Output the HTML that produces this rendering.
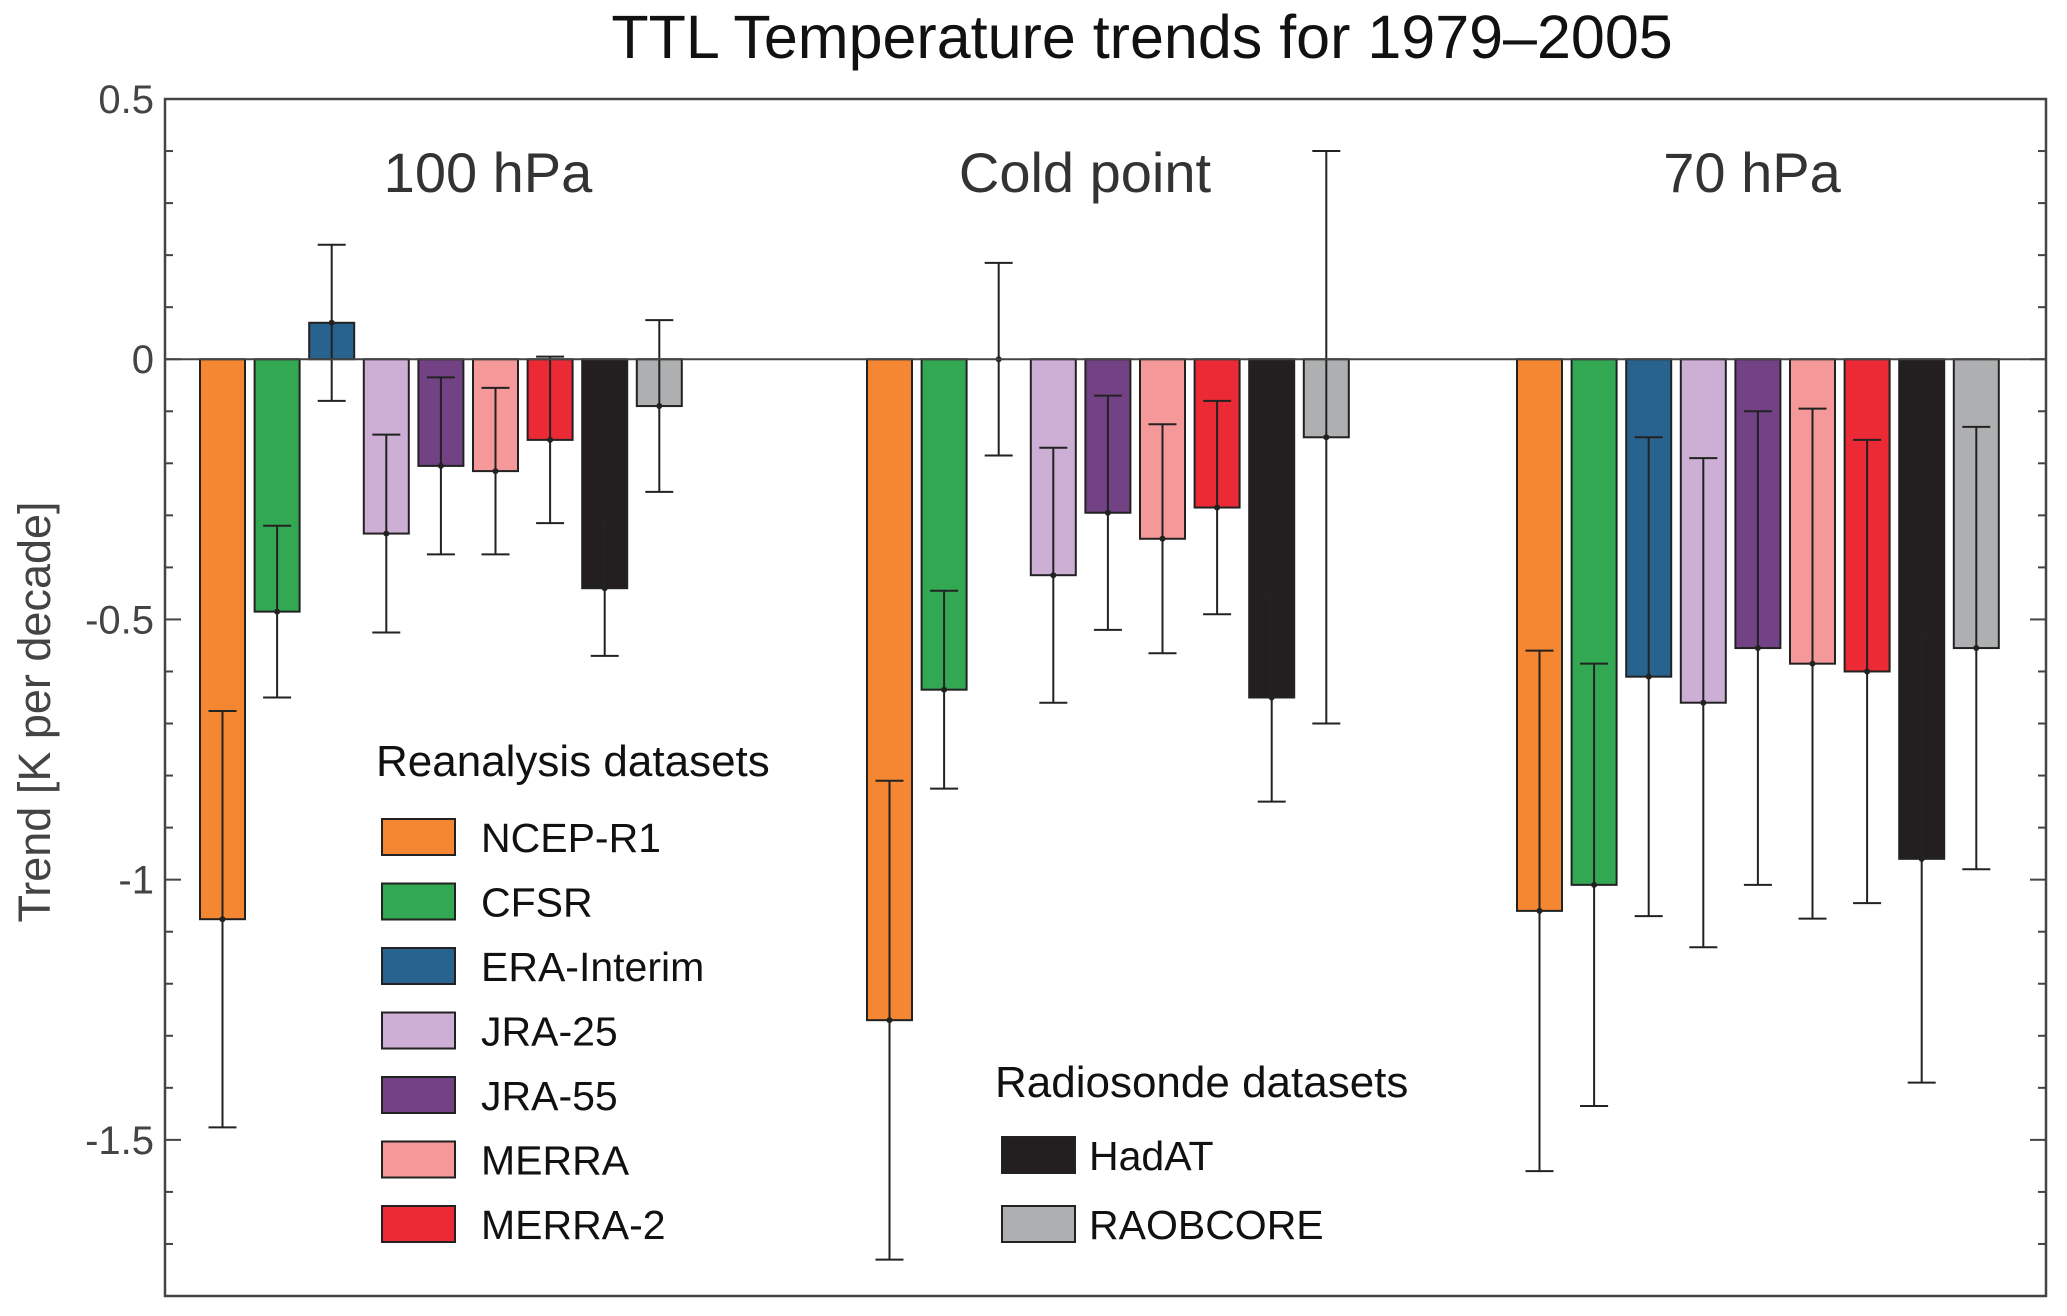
<!DOCTYPE html>
<html><head><meta charset="utf-8"><style>
html,body{margin:0;padding:0;background:#fff;}
svg{display:block;font-family:"Liberation Sans",sans-serif;}
</style></head><body>
<svg id="chart" width="2067" height="1316" viewBox="0 0 2067 1316">
<text x="1142" y="58" font-size="61" text-anchor="middle" fill="#111">TTL Temperature trends for 1979–2005</text>
<text transform="translate(50,712) rotate(-90)" font-size="45" text-anchor="middle" fill="#444">Trend [K per decade]</text>
<g id="plot"></g>
<g id="legend"></g>
</svg>
<script>
const groups = ["100 hPa", "Cold point", "70 hPa"];
const datasets = ["NCEP-R1","CFSR","ERA-Interim","JRA-25","JRA-55","MERRA","MERRA-2","HadAT","RAOBCORE"];
const colors = ["#f58733","#33a853","#286390","#cdafd6","#724284","#f59899","#eb2a35","#231f20","#aeafb0"];
const values100 = [-1.076,-0.485,0.07,-0.335,-0.205,-0.215,-0.155,-0.44,-0.09];
const errors100 = [0.40,0.165,0.15,0.19,0.17,0.16,0.16,0.13,0.165];
const valuesCold = [-1.27,-0.635,0.0,-0.415,-0.295,-0.345,-0.285,-0.65,-0.15];
const errorsCold = [0.46,0.19,0.185,0.245,0.225,0.22,0.205,0.2,0.55];
const values70 = [-1.06,-1.01,-0.61,-0.66,-0.555,-0.585,-0.60,-0.96,-0.555];
const errors70 = [0.5,0.425,0.46,0.47,0.455,0.49,0.445,0.43,0.425];
const yTickLabels = ["0.5","0","-0.5","-1","-1.5"];
const yTickValues = [0.5,0,-0.5,-1,-1.5];

const NS="http://www.w3.org/2000/svg";
const plot=document.getElementById('plot');
const legend=document.getElementById('legend');
const L=165,R=2046,T=99,B=1296;
const yMax=0.5,yMin=-1.8;
function y(v){return T+(yMax-v)/(yMax-yMin)*(B-T);}
const groupLeft=[200,867,1517];       // layout: left edge of each group
const groupLabelX=[488,1085,1752];    // layout: label centres
const barStep=54.6, barW=45;
function x(g,i){return groupLeft[g]+i*barStep;}
function mk(tag,attrs,parent){const e=document.createElementNS(NS,tag);for(const k in attrs)e.setAttribute(k,attrs[k]);parent.appendChild(e);return e;}

let fr=mk('rect',{x:L,y:T,width:R-L,height:B-T,fill:'none',stroke:'#444','stroke-width':2.5},plot);


for(let k=0;k<=23;k++){
  const v=0.5-k*0.1;
  const yy=y(v);
  const major=Math.abs(Math.round(v*10)%5)===0;
  const len=major?16:8;
  let t1=mk('line',{x1:L,x2:L+len,y1:yy,y2:yy,stroke:'#444','stroke-width':2},plot);
  
  
  let t2=mk('line',{x1:R-len,x2:R,y1:yy,y2:yy,stroke:'#444','stroke-width':2},plot);
  
  
}
yTickValues.forEach((v,i)=>{
  const t=mk('text',{x:154,y:y(v)+14,'font-size':40,'text-anchor':'end',fill:'#444'},plot);
  t.textContent=yTickLabels[i];
  
  
});
const groupVals=[values100,valuesCold,values70];
const groupErrs=[errors100,errorsCold,errors70];
groups.forEach((gname,g)=>{
  const t=mk('text',{x:groupLabelX[g],y:192,'font-size':56,'text-anchor':'middle',fill:'#333'},plot);
  t.textContent=gname;
  
  
  groupVals[g].forEach((v,i)=>{
    const x0=x(g,i), y0=y(0), y1=y(v);
    if(Math.abs(y1-y0)>0.5){
      const r=mk('rect',{x:x0,y:Math.min(y0,y1),width:barW,height:Math.abs(y1-y0),fill:colors[i],stroke:'#222','stroke-width':2},plot);
      
      
    }
    const e=groupErrs[g][i], cx=x0+barW/2;
    const el=mk('path',{d:`M${cx},${y(v+e)}V${y(v-e)}M${cx-14},${y(v+e)}H${cx+14}M${cx-14},${y(v-e)}H${cx+14}`,stroke:'#222','stroke-width':2,fill:'none'},plot);
    
    
    const d=mk('circle',{cx:cx,cy:y1,r:3,fill:'#222'},plot);
    
    
  });
});
let zl=mk('line',{x1:L,x2:R,y1:y(0),y2:y(0),stroke:'#444','stroke-width':2},plot);



function ltitle(txt,xx,yy){const t=mk('text',{x:xx,y:yy,'font-size':44,fill:'#111'},legend);t.textContent=txt;}
ltitle('Reanalysis datasets',376,776);
ltitle('Radiosonde datasets',995,1097);
function lentry(i,bx,tx,cy){
  const r=mk('rect',{x:bx,y:cy-18,width:73,height:36,fill:colors[i],stroke:'#222','stroke-width':2},legend);
  
  
  const t=mk('text',{x:tx,y:cy+15,'font-size':41,fill:'#111'},legend);
  t.textContent=datasets[i];
  
  
}
for(let i=0;i<7;i++) lentry(i,382,481,837+i*64.5);
lentry(7,1002,1089,1155);
lentry(8,1002,1089,1224);
</script>
</body></html>
